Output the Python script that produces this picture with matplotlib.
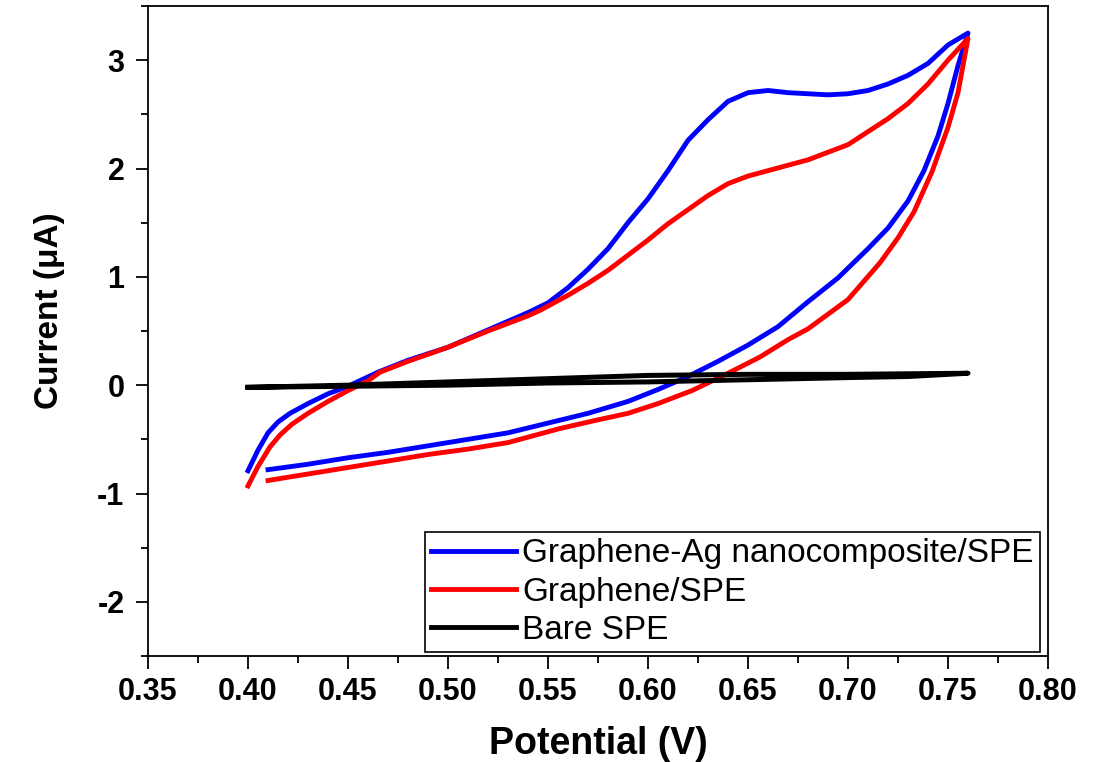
import matplotlib
matplotlib.use("Agg")
import matplotlib.pyplot as plt
from matplotlib.ticker import MultipleLocator, FormatStrFormatter

plt.rcParams['font.family'] = ['Liberation Sans', 'DejaVu Sans']
plt.rcParams['axes.unicode_minus'] = False

# Graphene-Ag nanocomposite/SPE (blue) - full CV loop in sweep order
ag_x = [0.410, 0.430, 0.450, 0.470, 0.490, 0.510, 0.530, 0.550, 0.570, 0.590, 0.605, 0.620,
        0.635, 0.650, 0.665, 0.680, 0.695, 0.710, 0.720, 0.730, 0.738, 0.745, 0.750, 0.755, 0.760,
        0.750, 0.740, 0.730, 0.720, 0.710, 0.700, 0.690, 0.680, 0.670, 0.660, 0.650, 0.640,
        0.630, 0.620, 0.610, 0.600, 0.590, 0.580, 0.570, 0.560, 0.550, 0.540, 0.520, 0.500,
        0.480, 0.465, 0.450, 0.440, 0.430, 0.421, 0.415, 0.410, 0.405, 0.400]
ag_y = [-0.78, -0.73, -0.67, -0.62, -0.56, -0.50, -0.44, -0.35, -0.26, -0.15, -0.04, 0.08,
        0.22, 0.37, 0.54, 0.77, 0.99, 1.26, 1.45, 1.70, 1.98, 2.30, 2.60, 2.95, 3.25,
        3.14, 2.97, 2.86, 2.78, 2.72, 2.69, 2.68, 2.69, 2.70, 2.72, 2.70, 2.62,
        2.45, 2.26, 1.98, 1.72, 1.50, 1.26, 1.07, 0.90, 0.76, 0.67, 0.51, 0.35,
        0.23, 0.12, -0.01, -0.08, -0.17, -0.26, -0.34, -0.44, -0.60, -0.79]

# Graphene/SPE (red)
g_x = [0.410, 0.430, 0.450, 0.470, 0.490, 0.510, 0.530, 0.556, 0.575, 0.590, 0.605, 0.622,
       0.640, 0.656, 0.670, 0.680, 0.700, 0.716, 0.725, 0.733, 0.742, 0.750, 0.755, 0.760,
       0.750, 0.740, 0.730, 0.720, 0.710, 0.700, 0.690, 0.680, 0.670, 0.660, 0.650, 0.640,
       0.630, 0.620, 0.610, 0.600, 0.590, 0.580, 0.570, 0.560, 0.546, 0.540, 0.520, 0.500,
       0.480, 0.466, 0.460, 0.450, 0.440, 0.430, 0.422, 0.416, 0.411, 0.405, 0.400]
g_y = [-0.88, -0.82, -0.76, -0.70, -0.64, -0.59, -0.53, -0.40, -0.32, -0.26, -0.17, -0.05,
       0.11, 0.26, 0.42, 0.52, 0.79, 1.13, 1.36, 1.60, 1.97, 2.38, 2.70, 3.20,
       3.00, 2.78, 2.60, 2.46, 2.34, 2.22, 2.15, 2.08, 2.03, 1.98, 1.93, 1.86,
       1.75, 1.62, 1.49, 1.34, 1.20, 1.06, 0.94, 0.83, 0.69, 0.64, 0.50, 0.35,
       0.22, 0.12, 0.04, -0.05, -0.15, -0.26, -0.36, -0.46, -0.57, -0.75, -0.93]

# Bare SPE (black)
b_x = [0.400, 0.450, 0.500, 0.550, 0.600, 0.650, 0.700, 0.730, 0.760,
       0.700, 0.650, 0.600, 0.550, 0.500, 0.450, 0.400]
b_y = [-0.02, -0.01, 0.00, 0.02, 0.03, 0.05, 0.07, 0.08, 0.11,
       0.10, 0.10, 0.09, 0.06, 0.03, 0.00, -0.02]

labels = ["Graphene-Ag nanocomposite/SPE", "Graphene/SPE", "Bare SPE"]
colors = ["#0000ff", "#ff0000", "#000000"]

fig = plt.figure(figsize=(10.98, 7.62), dpi=100)
ax = fig.add_axes([148/1098, 1-656/762, 900/1098, 650/762])

ax.plot(ag_x, ag_y, color=colors[0], lw=3.5, label=labels[0], solid_joinstyle='round')
ax.plot(g_x, g_y, color=colors[1], lw=3.5, label=labels[1], solid_joinstyle='round')
ax.plot(b_x, b_y, color=colors[2], lw=3.6, label=labels[2], solid_joinstyle='round')

ax.set_xlim(0.35, 0.80)
ax.set_ylim(-2.5, 3.5)
ax.xaxis.set_major_locator(MultipleLocator(0.05))
ax.xaxis.set_minor_locator(MultipleLocator(0.025))
ax.yaxis.set_major_locator(MultipleLocator(1))
ax.yaxis.set_minor_locator(MultipleLocator(0.5))
ax.xaxis.set_major_formatter(FormatStrFormatter('%.2f'))

ax.tick_params(which='both', direction='out', top=False, right=False, width=1.3)
ax.tick_params(which='major', length=9, labelsize=22, pad=6)
ax.tick_params(which='minor', length=5)
ax.tick_params(axis='y', which='major', pad=8)
for lab in ax.get_xticklabels() + ax.get_yticklabels():
    lab.set_fontweight('bold')
for s in ax.spines.values():
    s.set_linewidth(1.3)

ax.set_xlabel("Potential (V)", fontsize=27, fontweight='bold', labelpad=14)
ax.set_ylabel("Current (μA)", fontsize=24, fontweight='bold')
ax.yaxis.set_label_coords(-0.092, 0.531)

leg = ax.legend(loc='lower right', bbox_to_anchor=(0.991, 0.006), borderaxespad=0,
                fontsize=24, handlelength=2.55, handletextpad=0.18, labelspacing=0.22,
                borderpad=0.18, fancybox=False, frameon=True, framealpha=1)
leg.get_frame().set_edgecolor('black')
leg.get_frame().set_linewidth(1.2)
for line in leg.get_lines():
    line.set_linewidth(3.5)

fig.savefig("out.png", dpi=100)
